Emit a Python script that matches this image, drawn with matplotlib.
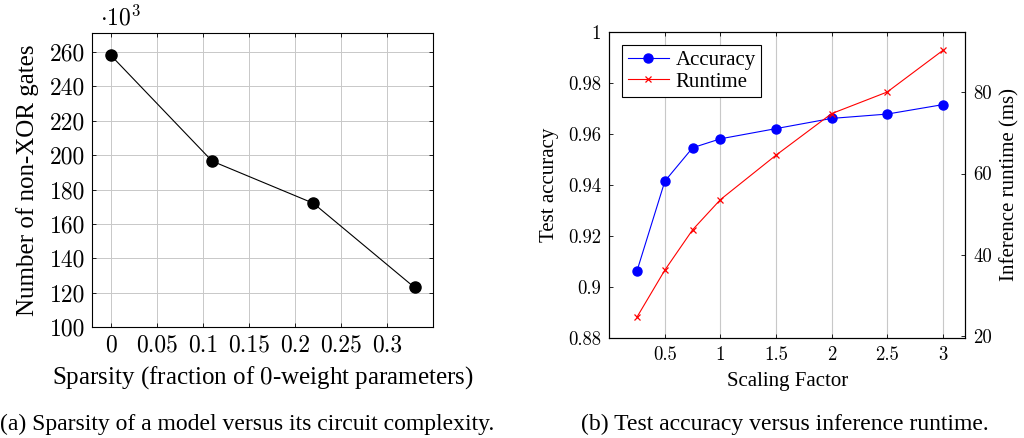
import matplotlib
matplotlib.use("Agg")
import matplotlib.pyplot as plt

# (a) sparsity vs circuit complexity (non-XOR gates, in thousands)
sparsity = [0.0, 0.11, 0.22, 0.33]
gates_k = [258, 196.5, 172, 123]
sparsity_ticks = [0, 0.05, 0.1, 0.15, 0.2, 0.25, 0.3]
sparsity_ticklabels = ["0", "0.05", "0.1", "0.15", "0.2", "0.25", "0.3"]
gates_ticks = [100, 120, 140, 160, 180, 200, 220, 240, 260]

# (b) scaling factor vs accuracy / runtime
scale = [0.25, 0.5, 0.75, 1.0, 1.5, 2.0, 2.5, 3.0]
accuracy = [0.9063, 0.9414, 0.9545, 0.958, 0.962, 0.966, 0.9677, 0.9714]
runtime_ms = [24.8, 36.3, 46.2, 53.6, 64.5, 74.7, 80.0, 90.2]
scale_ticks = [0.5, 1, 1.5, 2, 2.5, 3]
scale_ticklabels = ["0.5", "1", "1.5", "2", "2.5", "3"]
acc_ticks = [0.88, 0.9, 0.92, 0.94, 0.96, 0.98, 1.0]
acc_ticklabels = ["0.88", "0.9", "0.92", "0.94", "0.96", "0.98", "1"]
rt_ticks = [20, 40, 60, 80]

CM = "cmr10"
TIMES = "Liberation Serif"
GRID = "#c8c8c8"
plt.rcParams["mathtext.fontset"] = "cm"

fig = plt.figure(figsize=(10.24, 4.38), dpi=100)

# ---- left panel
ax1 = fig.add_axes([0.0898, 0.2534, 0.333, 0.671])
ax1.plot(sparsity, gates_k, color="black", lw=0.8, marker="o", ms=8, zorder=3)
ax1.set_xlim(-0.0207, 0.35)
ax1.set_ylim(100, 271)
ax1.set_xticks(sparsity_ticks)
ax1.set_xticklabels(sparsity_ticklabels, family=CM, fontsize=17)
ax1.set_yticks(gates_ticks)
ax1.set_yticklabels([str(t) for t in gates_ticks], family=CM, fontsize=17)
ax1.grid(True, color=GRID, lw=0.7)
ax1.set_axisbelow(True)
ax1.tick_params(direction="in", length=3, width=0.6, top=True, right=True, pad=5)
for s in ax1.spines.values():
    s.set_linewidth(0.8)
ax1.set_xlabel(r"Sparsity (fraction of $0$-weight parameters)", family=TIMES, fontsize=18, labelpad=6)
ax1.set_ylabel("Number of non-XOR gates", family=TIMES, fontsize=18, labelpad=8)
ax1.text(0.023, 1.027, r"$\cdot10^{3}$", transform=ax1.transAxes, fontsize=17,
         ha="left", va="baseline")

# ---- right panel
ax2 = fig.add_axes([0.595, 0.229, 0.3474, 0.6986])
l1, = ax2.plot(scale, accuracy, color="blue", lw=0.8, marker="o", ms=6.5, label="Accuracy", zorder=3)
ax2.set_xlim(0.0, 3.2)
ax2.set_ylim(0.88, 1.0)
ax2.set_xticks(scale_ticks)
ax2.set_xticklabels(scale_ticklabels, family=CM, fontsize=13.5)
ax2.set_yticks(acc_ticks)
ax2.set_yticklabels(acc_ticklabels, family=CM, fontsize=13.5)
ax2.grid(True, axis="x", color=GRID, lw=0.8)
ax2.set_axisbelow(True)
ax2.tick_params(direction="in", length=3, width=0.6, top=True, pad=6)
ax2.set_xlabel("Scaling Factor", family=TIMES, fontsize=15, labelpad=6)
ax2.set_ylabel("Test accuracy", family=TIMES, fontsize=15, labelpad=6)

ax3 = ax2.twinx()
l2, = ax3.plot(scale, runtime_ms, color="red", lw=0.8, marker="x", ms=5, mew=0.9, label="Runtime", zorder=3)
ax3.set_ylim(19.7, 94.8)
ax3.set_yticks(rt_ticks)
ax3.set_yticklabels([str(t) for t in rt_ticks], family=CM, fontsize=13.5)
ax3.tick_params(direction="in", length=3, width=0.6, pad=6)
ax3.set_ylabel("Inference runtime (ms)", family=TIMES, fontsize=15, labelpad=6)
for a in (ax2, ax3):
    for s in a.spines.values():
        s.set_linewidth(0.8)

leg = ax3.legend(handles=[l1, l2], loc="upper left", bbox_to_anchor=(0.025, 0.97),
                 prop={"family": TIMES, "size": 15}, fancybox=False, edgecolor="black",
                 framealpha=1, handlelength=2.0, borderpad=0.25, labelspacing=0.1,
                 handletextpad=0.3, borderaxespad=0.2)
leg.get_frame().set_linewidth(0.8)

# captions
fig.text(0.241, 0.03, "(a) Sparsity of a model versus its circuit complexity.",
         family=TIMES, fontsize=17, ha="center", va="center")
fig.text(0.766, 0.03, "(b) Test accuracy versus inference runtime.",
         family=TIMES, fontsize=17, ha="center", va="center")

fig.savefig("out.png", dpi=100)
